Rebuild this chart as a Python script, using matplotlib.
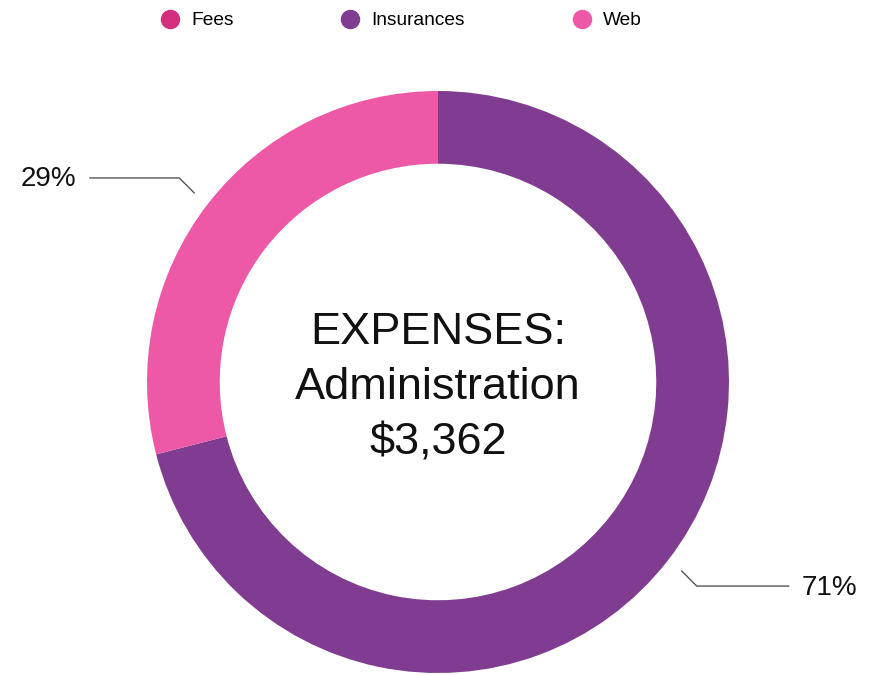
import numpy as np
import matplotlib.pyplot as plt
from matplotlib.lines import Line2D

plt.rcParams['font.family'] = ['Liberation Sans', 'DejaVu Sans']

# data
labels = ["Fees", "Insurances", "Web"]
values = [0, 71, 29]
colors = ["#d42e7f", "#803c91", "#ee59a7"]
center_title = "EXPENSES:\nAdministration\n$3,362"

fig = plt.figure(figsize=(8.81, 6.75), dpi=100)
ax = fig.add_axes([0, 0, 1, 1])

# 1 data unit = outer radius (291 px), centre at (438, 382) px
R = 291.0
wedges, _ = ax.pie(values, colors=colors, startangle=90, counterclock=False,
                   radius=1.0, wedgeprops=dict(width=0.25, linewidth=0))
ax.set_xlim(-438 / R, (881 - 438) / R)
ax.set_ylim((382 - 675) / R, 382 / R)
ax.axis("off")

ax.text(0, -0.02, center_title, ha="center", va="center", fontsize=32.5,
        color="#111111", linespacing=1.45)

# leader lines + percent labels
total = sum(values)
d = 15 / R
for w, v in zip(wedges, values):
    if v == 0:
        continue
    ang = np.deg2rad((w.theta1 + w.theta2) / 2)
    c, s = np.cos(ang), np.sin(ang)
    x0, y0 = 1.06 * c, 1.06 * s
    x1, y1 = x0 + d * np.sign(c), y0 + d * np.sign(s)
    side = 1 if c > 0 else -1
    x2 = (1.196 if side < 0 else 1.205) * side
    ax.plot([x0, x1, x2], [y0, y1, y1], color="#555555", lw=1.0)
    ax.text(x2 + 0.046 * side, y1 - 0.005, f"{v / total * 100:.0f}%",
            ha="left" if side > 0 else "right", va="center",
            fontsize=20, color="#111111")

handles = [Line2D([], [], marker="o", linestyle="none", markersize=13,
                  markerfacecolor=col, markeredgecolor=col) for col in colors]
fig.legend(handles, labels, loc="center", ncol=3, frameon=False,
           bbox_to_anchor=(401 / 881, 1 - 20.5 / 675), fontsize=13.8,
           handlelength=1.0, handletextpad=0.6, columnspacing=5.6,
           borderpad=0, borderaxespad=0)

fig.savefig("out.png", dpi=100)
